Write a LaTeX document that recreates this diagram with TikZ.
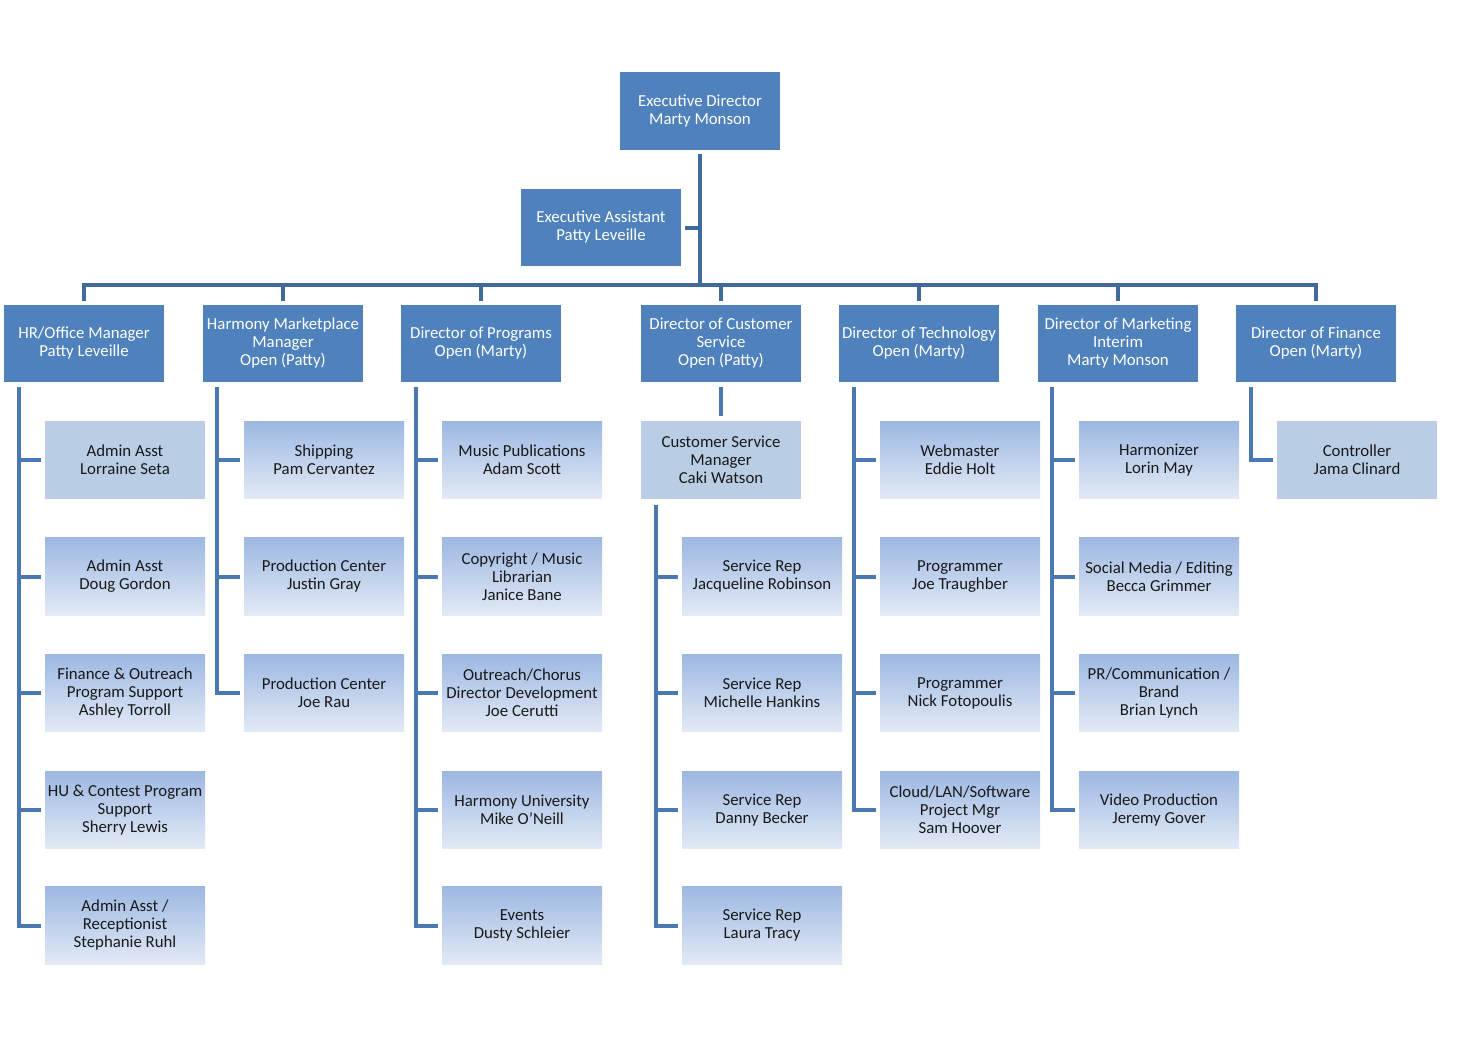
\documentclass[tikz,border=0pt]{standalone}
\usepackage{fontspec}
\setmainfont{Carlito}
\usetikzlibrary{calc}
\definecolor{dark}{HTML}{4F81BD}
\definecolor{flat}{HTML}{B9CDE5}
\definecolor{gtop}{HTML}{9DB8E2}
\definecolor{gbot}{HTML}{E3EAF6}
\definecolor{busc}{HTML}{3F6A9C}
\definecolor{connc}{HTML}{4A78B2}
\tikzset{
  box/.style={rectangle, inner sep=0pt, minimum width=120pt, minimum height=58pt, align=center,
    font=\fontsize{12.6}{13.5}\selectfont},
  darkbox/.style={box, fill=dark, text=white},
  flatbox/.style={box, fill=flat, text=black!90},
  gradbox/.style={box, top color=gtop, bottom color=gbot, text=black!90},
  busline/.style={draw=busc, line width=3pt},
  connline/.style={draw=connc, line width=3pt},
}
\begin{document}
\begin{tikzpicture}[x=0.75pt,y=-0.75pt]
\useasboundingbox (0,0) rectangle (1463,1038);
% top
\node[darkbox] (ed) at (700,111) {Executive Director\\Marty Monson};
\node[darkbox] (ea) at (601,227.5) {Executive Assistant\\Patty Leveille};
% directors
\node[darkbox] (hr) at (84,343.5) {HR/Office Manager\\Patty Leveille};
\node[darkbox] (hm) at (283,343.5) {Harmony Marketplace\\Manager\\Open (Patty)};
\node[darkbox] (pg) at (481,343.5) {Director of Programs\\Open (Marty)};
\node[darkbox] (cs) at (721,343.5) {Director of Customer\\Service\\Open (Patty)};
\node[darkbox] (te) at (919,343.5) {Director of Technology\\Open (Marty)};
\node[darkbox] (mk) at (1118,343.5) {Director of Marketing\\Interim\\Marty Monson};
\node[darkbox] (fi) at (1316,343.5) {Director of Finance\\Open (Marty)};
\coordinate (trunk) at (700,285);
\draw[busline] ($(ed.south)+(0,4)$) -- (trunk);
\draw[busline] ($(ea.east)+(4,0)$) -- (ea.east -| trunk);
\foreach \d in {hr,hm,pg,cs,te,mk,fi}{
  \draw[busline] (trunk) -| ($(\d.north)+(0,-4)$);
}
% HR children
\node[flatbox] (hr1) at (125,460) {Admin Asst\\Lorraine Seta};
\node[gradbox] (hr2) at (125,576.5) {Admin Asst\\Doug Gordon};
\node[gradbox] (hr3) at (125,693) {Finance \& Outreach\\Program Support\\Ashley Torroll};
\node[gradbox] (hr4) at (125,810) {HU \& Contest Program\\Support\\Sherry Lewis};
\node[gradbox] (hr5) at (125,925.5) {Admin Asst /\\Receptionist\\Stephanie Ruhl};
% Harmony children
\node[gradbox] (hm1) at (324,460) {Shipping\\Pam Cervantez};
\node[gradbox] (hm2) at (324,576.5) {Production Center\\Justin Gray};
\node[gradbox] (hm3) at (324,693) {Production Center\\Joe Rau};
% Programs children
\node[gradbox] (pg1) at (522,460) {Music Publications\\Adam Scott};
\node[gradbox] (pg2) at (522,576.5) {Copyright / Music\\Librarian\\Janice Bane};
\node[gradbox] (pg3) at (522,693) {Outreach/Chorus\\Director Development\\Joe Cerutti};
\node[gradbox] (pg4) at (522,810) {Harmony University\\Mike O'Neill};
\node[gradbox] (pg5) at (522,925.5) {Events\\Dusty Schleier};
% Customer service
\node[flatbox] (csm) at (721,460) {Customer Service\\Manager\\Caki Watson};
\node[gradbox] (cs1) at (762,576.5) {Service Rep\\Jacqueline Robinson};
\node[gradbox] (cs2) at (762,693) {Service Rep\\Michelle Hankins};
\node[gradbox] (cs3) at (762,810) {Service Rep\\Danny Becker};
\node[gradbox] (cs4) at (762,925.5) {Service Rep\\Laura Tracy};
% Technology
\node[gradbox] (te1) at (960,460) {Webmaster\\Eddie Holt};
\node[gradbox] (te2) at (960,576.5) {Programmer\\Joe Traughber};
\node[gradbox] (te3) at (960,693) {Programmer\\Nick Fotopoulis};
\node[gradbox] (te4) at (960,810) {Cloud/LAN/Software\\Project Mgr\\Sam Hoover};
% Marketing
\node[gradbox] (mk1) at (1159,460) {Harmonizer\\Lorin May};
\node[gradbox] (mk2) at (1159,576.5) {Social Media / Editing\\Becca Grimmer};
\node[gradbox] (mk3) at (1159,693) {PR/Communication /\\Brand\\Brian Lynch};
\node[gradbox] (mk4) at (1159,810) {Video Production\\Jeremy Gover};
% Finance
\node[flatbox] (fi1) at (1357,460) {Controller\\Jama Clinard};
% child connectors
\coordinate (hrv) at ($(hr.south west)+(15,5)$);
\foreach \c in {hr1,hr2,hr3,hr4,hr5}{ \draw[connline] (hrv) |- ($(\c.west)+(-4,0)$); }
\coordinate (hmv) at ($(hm.south west)+(14,5)$);
\foreach \c in {hm1,hm2,hm3}{ \draw[connline] (hmv) |- ($(\c.west)+(-4,0)$); }
\coordinate (pgv) at ($(pg.south west)+(15,5)$);
\foreach \c in {pg1,pg2,pg3,pg4,pg5}{ \draw[connline] (pgv) |- ($(\c.west)+(-4,0)$); }
\draw[connline] ($(cs.south)+(0,5)$) -- ($(csm.north)+(0,-5)$);
\coordinate (csv) at ($(csm.south west)+(15,6)$);
\foreach \c in {cs1,cs2,cs3,cs4}{ \draw[connline] (csv) |- ($(\c.west)+(-4,0)$); }
\coordinate (tev) at ($(te.south west)+(15,5)$);
\foreach \c in {te1,te2,te3,te4}{ \draw[connline] (tev) |- ($(\c.west)+(-4,0)$); }
\coordinate (mkv) at ($(mk.south west)+(14,5)$);
\foreach \c in {mk1,mk2,mk3,mk4}{ \draw[connline] (mkv) |- ($(\c.west)+(-4,0)$); }
\coordinate (fiv) at ($(fi.south west)+(15,5)$);
\draw[connline] (fiv) |- ($(fi1.west)+(-4,0)$);
\end{tikzpicture}
\end{document}
